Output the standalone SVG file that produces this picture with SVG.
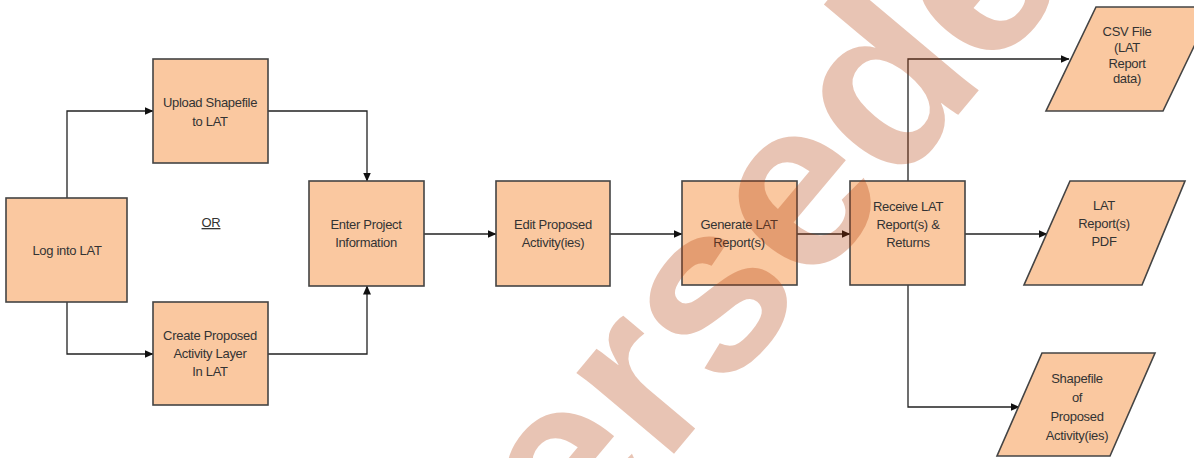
<svg xmlns="http://www.w3.org/2000/svg" width="1194" height="458" viewBox="0 0 1194 458">
<defs>
<marker id="ah" markerWidth="9" markerHeight="8" refX="8.5" refY="4" orient="auto" markerUnits="userSpaceOnUse">
<path d="M0,0 L9,4 L0,8 Z" fill="#111"/>
</marker>
<style>
.box{fill:#fac8a0;stroke:#444;stroke-width:1.6}
.t{font-family:"Liberation Sans",Arial,sans-serif;font-size:13px;fill:#333;text-anchor:middle;letter-spacing:-0.3px}
.c{fill:none;stroke:#222;stroke-width:1.3;marker-end:url(#ah)}
.wm{font-family:"Liberation Sans",Arial,sans-serif;font-weight:bold;font-size:240px;fill:#b23a05;fill-opacity:0.3}
</style>
</defs>
<rect width="1194" height="458" fill="#fff"/>
<g id="connectors">
<path class="c" d="M67,198 V111 H153"/>
<path class="c" d="M67,302 V354 H153"/>
<path class="c" d="M268,111 H367 V181"/>
<path class="c" d="M268,354 H367 V286"/>
<path class="c" d="M424,234 H496"/>
<path class="c" d="M610,234 H682"/>
<path class="c" d="M797,234 H850"/>
<path class="c" d="M965,234 H1047"/>
<path class="c" d="M908,181 V59 H1069"/>
<path class="c" d="M908,285 V407 H1019"/>
</g>
<g id="log">
<rect class="box" x="6" y="198" width="121" height="104"/>
<text class="t" x="67" y="255">Log into LAT</text>
</g>
<g id="upload">
<rect class="box" x="153" y="59" width="115" height="104"/>
<text class="t" x="210" y="107">Upload Shapefile</text>
<text class="t" x="210" y="126">to LAT</text>
</g>
<g id="or">
<text class="t" x="211" y="227" text-decoration="underline">OR</text>
</g>
<g id="create">
<rect class="box" x="153" y="302" width="115" height="103"/>
<text class="t" x="210" y="340">Create Proposed</text>
<text class="t" x="210" y="358">Activity Layer</text>
<text class="t" x="210" y="376">In LAT</text>
</g>
<g id="enter">
<rect class="box" x="309" y="181" width="115" height="105"/>
<text class="t" x="366" y="229">Enter Project</text>
<text class="t" x="366" y="247">Information</text>
</g>
<g id="edit">
<rect class="box" x="496" y="181" width="114" height="105"/>
<text class="t" x="553" y="229">Edit Proposed</text>
<text class="t" x="553" y="247">Activity(ies)</text>
</g>
<g id="generate">
<rect class="box" x="682" y="181" width="115" height="104"/>
<text class="t" x="739" y="229">Generate LAT</text>
<text class="t" x="739" y="247">Report(s)</text>
</g>
<g id="receive">
<rect class="box" x="850" y="181" width="115" height="104"/>
<text class="t" x="908" y="211">Receive LAT</text>
<text class="t" x="908" y="229">Report(s) &amp;</text>
<text class="t" x="908" y="247">Returns</text>
</g>
<g id="csv">
<polygon class="box" points="1096,7 1213,7 1163,111 1046,111"/>
<text class="t" x="1127" y="36">CSV File</text>
<text class="t" x="1127" y="52">(LAT</text>
<text class="t" x="1127" y="68">Report</text>
<text class="t" x="1127" y="83">data)</text>
</g>
<g id="pdf">
<polygon class="box" points="1070,181 1185,181 1142,285 1024,285"/>
<text class="t" x="1104" y="210">LAT</text>
<text class="t" x="1104" y="228">Report(s)</text>
<text class="t" x="1104" y="246">PDF</text>
</g>
<g id="shapefile">
<polygon class="box" points="1042,353 1155,353 1110,456 997,456"/>
<text class="t" x="1077" y="383">Shapefile</text>
<text class="t" x="1077" y="402">of</text>
<text class="t" x="1077" y="421">Proposed</text>
<text class="t" x="1077" y="440">Activity(ies)</text>
</g>
<g id="watermark">
<text class="wm" transform="translate(286,916) rotate(-50)">Superseded</text>
</g>
</svg>
